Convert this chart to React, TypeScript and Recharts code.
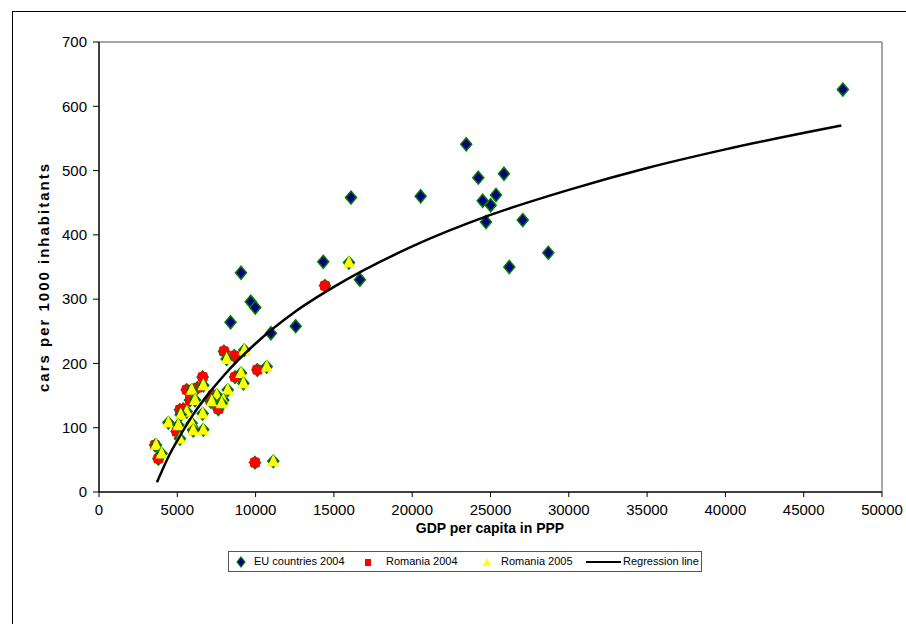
import React from 'react';
import { ScatterChart, Scatter, XAxis, YAxis, ReferenceLine } from 'recharts';

const euCountries2004: [number, number][] = [
  [47500, 626], [23450, 541], [24220, 489], [25860, 495], [16090, 458], [20540, 460],
  [25350, 462], [24500, 453], [25010, 446], [24710, 420], [27060, 423], [28690, 372],
  [26200, 350], [14320, 358], [16660, 330], [9070, 341], [9690, 296], [9980, 287],
  [8400, 264], [12560, 258], [10980, 247],
];

const romania2004: [number, number][] = [
  [7980, 219], [8640, 212], [10110, 190], [6620, 179], [5600, 159], [6280, 162],
  [5810, 143], [7130, 141], [7620, 129], [8690, 179], [5170, 128], [5380, 129],
  [4960, 94], [6020, 97], [3580, 73], [3790, 52], [9960, 46], [14430, 321], [7260, 151],
];

const romania2005: [number, number][] = [
  [8150, 207], [9280, 221], [10710, 195], [9070, 185], [9220, 169], [6660, 166],
  [5920, 159], [8220, 159], [7520, 151], [7940, 143], [6130, 143], [7200, 141],
  [7830, 138], [5600, 125], [5220, 120], [6620, 122], [4430, 108], [5070, 104],
  [5920, 107], [6660, 97], [6020, 96], [5170, 83], [3640, 73], [4000, 60],
  [11130, 48], [15960, 357],
];

const regressionLine: [number, number][] = [
  [3700, 15], [4500, 58], [5000, 80], [6000, 120], [7000, 153], [8000, 182],
  [10000, 231], [12500, 280], [15000, 319], [20000, 382], [25000, 431],
  [30000, 470], [35000, 504], [40000, 533], [47400, 570],
];

const xTicks = [0, 5000, 10000, 15000, 20000, 25000, 30000, 35000, 40000, 45000, 50000];
const yTicks = [0, 100, 200, 300, 400, 500, 600, 700];

const toPoints = (arr: [number, number][]) => arr.map(([gdp, cars]) => ({ gdp, cars }));

const FONT = 'Arial, "Liberation Sans", Helvetica, sans-serif';

const Diamond = (props: any) => {
  const { cx, cy } = props;
  if (cx == null || cy == null) return <g />;
  return (
    <polygon
      points={`${cx},${cy - 6.5} ${cx + 5.5},${cy} ${cx},${cy + 6.5} ${cx - 5.5},${cy}`}
      fill="#000080"
      stroke="#008000"
      strokeWidth={1.5}
    />
  );
};

const GreenBack = ({ cx, cy }: { cx: number; cy: number }) => (
  <polygon
    points={`${cx},${cy - 6} ${cx + 5.5},${cy} ${cx},${cy + 6.5} ${cx - 5.5},${cy}`}
    fill="#000080"
    stroke="#008000"
    strokeWidth={1.5}
  />
);

const RedSquare = (props: any) => {
  const { cx, cy } = props;
  if (cx == null || cy == null) return <g />;
  return (
    <g>
      <GreenBack cx={cx} cy={cy} />
      <rect x={cx - 5} y={cy - 5} width={10} height={10} rx={2.5} fill="#FF0000" />
    </g>
  );
};

const YellowTriangle = (props: any) => {
  const { cx, cy } = props;
  if (cx == null || cy == null) return <g />;
  return (
    <g>
      <GreenBack cx={cx} cy={cy} />
      <polygon
        points={`${cx},${cy - 7} ${cx + 6},${cy + 5} ${cx - 6},${cy + 5}`}
        fill="#FFFF00"
      />
    </g>
  );
};

const NoDot = () => <g />;

export default function App() {
  return (
    <div
      style={{
        position: 'absolute',
        left: 0,
        top: 0,
        width: 906,
        height: 624,
        background: '#fff',
        overflow: 'hidden',
        fontFamily: FONT,
      }}
    >
      <div
        style={{
          position: 'absolute',
          left: 12,
          top: 11,
          width: 960,
          height: 700,
          border: '1.5px solid #000',
          boxSizing: 'border-box',
        }}
      />
      <div style={{ position: 'absolute', left: 0, top: 0 }}>
        <ScatterChart
          width={906}
          height={624}
          margin={{ top: 42, right: 24, bottom: 102, left: 0 }}
        >
          <XAxis
            type="number"
            dataKey="gdp"
            domain={[0, 50000]}
            ticks={xTicks}
            interval={0}
            height={30}
            tickSize={5}
            tickMargin={7}
            axisLine={{ stroke: '#000', strokeWidth: 1.5 }}
            tickLine={{ stroke: '#000' }}
            tick={{ fill: '#000', fontSize: 15, fontFamily: FONT }}
            allowDataOverflow
          />
          <YAxis
            type="number"
            dataKey="cars"
            domain={[0, 700]}
            ticks={yTicks}
            interval={0}
            width={99}
            tickSize={6}
            tickMargin={6}
            axisLine={{ stroke: '#000', strokeWidth: 1.5 }}
            tickLine={{ stroke: '#000' }}
            tick={{ fill: '#000', fontSize: 15, fontFamily: FONT }}
            allowDataOverflow
          />
          <ReferenceLine y={700} stroke="#888" strokeWidth={1.5} />
          <ReferenceLine x={50000} stroke="#888" strokeWidth={1.5} />
          <Scatter
            name="EU countries 2004"
            data={toPoints(euCountries2004)}
            shape={Diamond}
            isAnimationActive={false}
          />
          <Scatter
            name="Romania 2004"
            data={toPoints(romania2004)}
            shape={RedSquare}
            isAnimationActive={false}
          />
          <Scatter
            name="Romania 2005"
            data={toPoints(romania2005)}
            shape={YellowTriangle}
            isAnimationActive={false}
          />
          <Scatter
            name="Regression line"
            data={toPoints(regressionLine)}
            line={{ stroke: '#000', strokeWidth: 2.5 }}
            lineJointType="monotoneX"
            shape={NoDot}
            isAnimationActive={false}
          />
        </ScatterChart>
      </div>
      <div
        style={{
          position: 'absolute',
          left: 43,
          top: 277,
          transform: 'translate(-50%, -50%) rotate(-90deg)',
          fontWeight: 'bold',
          fontSize: 15,
          letterSpacing: 2,
          whiteSpace: 'nowrap',
        }}
      >
        cars per 1000 inhabitants
      </div>
      <div
        style={{
          position: 'absolute',
          left: 490,
          top: 528,
          transform: 'translate(-50%, -50%)',
          fontWeight: 'bold',
          fontSize: 14,
          whiteSpace: 'nowrap',
        }}
      >
        GDP per capita in PPP
      </div>
      <div
        style={{
          position: 'absolute',
          left: 228,
          top: 551,
          width: 474,
          height: 21,
          border: '1px solid #555',
          boxSizing: 'border-box',
          fontSize: 11,
          color: '#000',
        }}
      >
        <svg width={472} height={19} style={{ position: 'absolute', left: 0, top: 0 }}>
          <polygon points="12,5 16,10 12,15 8,10" fill="#000080" stroke="#008000" strokeWidth={1.2} />
          <rect x={136} y={7} width={6} height={7} fill="#FF0000" />
          <polygon points="258,6 262,14 254,14" fill="#FFFF00" />
          <line x1={357} y1={10} x2={392} y2={10} stroke="#000" strokeWidth={2} />
        </svg>
        <span style={{ position: 'absolute', left: 25, top: 3, whiteSpace: 'nowrap' }}>EU countries 2004</span>
        <span style={{ position: 'absolute', left: 157, top: 3, whiteSpace: 'nowrap' }}>Romania 2004</span>
        <span style={{ position: 'absolute', left: 272, top: 3, whiteSpace: 'nowrap' }}>Romania 2005</span>
        <span style={{ position: 'absolute', left: 394, top: 3, whiteSpace: 'nowrap' }}>Regression line</span>
      </div>
    </div>
  );
}
